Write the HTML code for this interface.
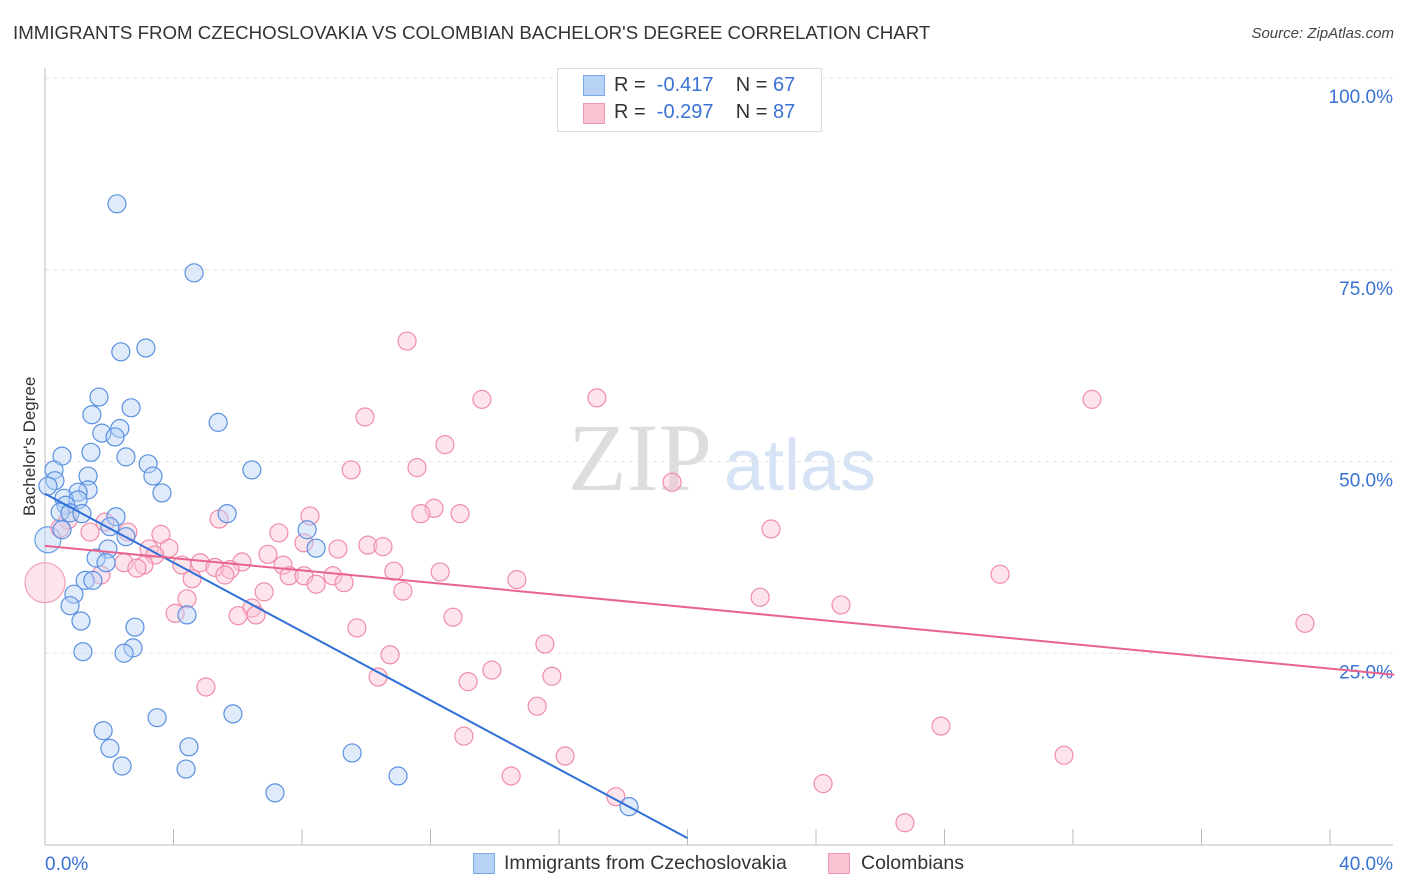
<!DOCTYPE html>
<html><head><meta charset="utf-8"><style>
body{margin:0;background:#fff;font-family:"Liberation Sans",sans-serif;}
#wrap{position:relative;width:1406px;height:892px;overflow:hidden;}
.t{position:absolute;white-space:nowrap;}
</style></head><body>
<div id="wrap">
<div class="t" style="left:13px;top:22px;font-size:18.7px;color:#333;">IMMIGRANTS FROM CZECHOSLOVAKIA VS COLOMBIAN BACHELOR'S DEGREE CORRELATION CHART</div>
<div class="t" style="right:12px;top:25px;font-size:15px;color:#444;font-style:italic;">Source: ZipAtlas.com</div>
<svg id="svg" width="1406" height="892" style="position:absolute;left:0;top:0;">
<text x="640" y="490" font-size="96" font-family="Liberation Serif,serif" fill="#ddd" text-anchor="middle">ZIP</text>
<text x="800" y="490" font-size="72" font-family="Liberation Sans,sans-serif" fill="#d5e3f5" text-anchor="middle">atlas</text>
</svg>
<div class="t" style="left:-30px;top:446px;font-size:17px;color:#333;transform:rotate(-90deg);transform-origin:center;width:120px;text-align:center;">Bachelor's Degree</div>
<div class="t" style="left:557px;top:68px;width:263px;height:62px;border:1px solid #ddd;background:#fff;"></div>
<div class="t" style="left:583px;top:75px;width:20px;height:19px;background:#b8d2f6;border:1px solid #7aaae8;"></div>
<div class="t" style="left:583px;top:103px;width:20px;height:19px;background:#fac3d2;border:1px solid #f09ab2;"></div>
<div class="t" style="left:614px;top:74px;font-size:20px;color:#333;">R = &nbsp;<span style="color:#3a72d4">-0.417</span>&nbsp;&nbsp;&nbsp; N = <span style="color:#3a72d4">67</span></div>
<div class="t" style="left:614px;top:101px;font-size:20px;color:#333;">R = &nbsp;<span style="color:#3a72d4">-0.297</span>&nbsp;&nbsp;&nbsp; N = <span style="color:#3a72d4">87</span></div>
<div class="t" style="left:473px;top:853px;width:20px;height:19px;background:#b8d2f6;border:1px solid #7aaae8;"></div>
<div class="t" style="left:504px;top:852px;font-size:19.5px;color:#333;">Immigrants from Czechoslovakia</div>
<div class="t" style="left:828px;top:853px;width:20px;height:19px;background:#fac3d2;border:1px solid #f09ab2;"></div>
<div class="t" style="left:861px;top:852px;font-size:19.5px;color:#333;">Colombians</div>
</div>
<script>
const yTicks=[25,50,75,100];
const yTickLabels=["25.0%","50.0%","75.0%","100.0%"];
const blueX=[2.24,4.64,2.36,3.14,1.68,2.68,1.46,5.39,2.33,1.77,2.18,0.53,1.43,2.52,3.21,3.36,0.28,6.44,1.34,0.31,0.09,1.34,1.03,3.64,0.59,1.03,0.65,0.47,0.78,1.15,2.21,5.67,2.02,8.16,2.52,0.53,1.96,8.44,1.59,1.90,1.25,1.49,0.90,0.78,4.42,1.12,2.80,2.74,2.46,1.18,3.49,5.85,1.81,4.48,2.02,9.56,2.40,4.39,10.99,7.16,18.18];
const blueY=[83.6,74.6,64.3,64.8,58.4,57.0,56.1,55.1,54.3,53.7,53.2,50.7,51.2,50.6,49.7,48.1,48.9,48.9,48.1,47.5,46.8,46.3,46.0,45.9,45.2,45.0,44.3,43.4,43.3,43.2,42.8,43.2,41.5,41.1,40.2,41.1,38.6,38.7,37.4,36.8,34.5,34.5,32.7,31.2,30.0,29.2,28.4,25.7,25.0,25.2,16.6,17.1,14.9,12.8,12.6,12.0,10.3,9.9,9.0,6.8,5.0];
const pinkX=[11.27,13.60,17.18,32.59,9.96,12.45,9.53,11.58,19.52,12.11,11.70,12.92,8.25,5.42,22.60,3.61,2.58,1.87,0.72,0.47,1.40,7.28,8.06,10.05,10.52,9.12,3.24,3.86,3.42,6.94,6.13,4.83,4.26,5.29,5.76,2.46,3.08,2.86,7.41,5.60,10.86,12.30,7.60,8.06,8.96,1.74,4.58,8.44,9.31,14.69,29.73,6.82,11.14,22.26,24.78,6.44,4.05,4.42,6.01,6.57,12.70,39.22,9.71,15.56,10.74,13.91,10.37,15.78,13.17,5.01,15.32,27.89,13.04,31.72,16.19,14.51,17.77,24.22,26.77];
const pinkY=[65.7,58.1,58.3,58.1,55.8,52.2,48.9,49.2,47.3,43.9,43.2,43.2,42.9,42.5,41.2,40.5,40.8,42.1,42.4,41.3,40.8,40.7,39.4,39.1,38.9,38.6,38.6,38.7,37.8,37.9,36.9,36.8,36.5,36.2,35.9,36.8,36.5,36.1,36.5,35.2,35.7,35.6,35.1,35.1,35.1,35.2,34.7,34.0,34.2,34.6,35.3,33.0,33.1,32.3,31.3,30.9,30.2,32.1,29.9,30.0,29.7,28.9,28.3,26.2,24.8,22.8,21.9,22.0,21.3,20.6,18.1,15.5,14.2,11.7,11.6,9.0,6.3,8.0,2.9];
const blueBigX=[0.09], blueBigY=[39.8];
const pinkBigX=[0.0], pinkBigY=[34.2];
const blueTrend=[[0,45.8],[20,0.9]];
const pinkTrend=[[0,39.0],[42,22.2]];
const X0=45,XS=32.125,Y0=845,YS=7.67;
const sx=v=>X0+v*XS, sy=v=>Y0-v*YS;
const svg=document.getElementById('svg');
const NS='http://www.w3.org/2000/svg';
function mk(t,a){const e=document.createElementNS(NS,t);for(const k in a)e.setAttribute(k,a[k]);svg.appendChild(e);return e;}
yTicks.forEach((v,i)=>{
 const g=mk('line',{x1:45,x2:1393,y1:sy(v),y2:sy(v),stroke:'#e3e3e3','stroke-dasharray':'4,4'});
 
 
 const t=mk('text',{x:1393,y:sy(v)+25,'text-anchor':'end','font-size':19,fill:'#3a72d4','font-family':'Liberation Sans,sans-serif'});
 t.textContent=yTickLabels[i];
 
 
});
const ax=mk('line',{x1:45,x2:45,y1:68,y2:845,stroke:'#bbb'});


const bx=mk('line',{x1:45,x2:1393,y1:845,y2:845,stroke:'#bbb'});


for(let i=0;i<=10;i++){
 const tk=mk('line',{x1:sx(i*4),x2:sx(i*4),y1:829,y2:845,stroke:'#bbb'});
 
 
}
[[0,'0.0%',45,'start'],[40,'40.0%',1393,'end']].forEach(d=>{
 const t=mk('text',{x:d[2],y:870,'text-anchor':d[3],'font-size':19,fill:'#3a72d4','font-family':'Liberation Sans,sans-serif'});
 t.textContent=d[1];
 
 
});
function pts(xs,ys,r,fill,stroke,name){
 xs.forEach((x,i)=>{
  const c=mk('circle',{cx:sx(x),cy:sy(ys[i]),r:r,fill:fill,'fill-opacity':0.45,stroke:stroke,'stroke-width':1.2});
  
  
 });
}
pts(pinkBigX,pinkBigY,20,'#fac3d2','#f2a0b8','pink-point-large');
pts(blueBigX,blueBigY,13,'#b8d2f6','#6a9ee6','blue-point-large');
pts(pinkX,pinkY,9,'#fac3d2','#f08cab','pink-point');
pts(blueX,blueY,9,'#b8d2f6','#5a90e0','blue-point');
const bl=mk('line',{x1:sx(blueTrend[0][0]),y1:sy(blueTrend[0][1]),x2:sx(blueTrend[1][0]),y2:sy(blueTrend[1][1]),stroke:'#2f6fd6','stroke-width':2});


const pl=mk('line',{x1:sx(pinkTrend[0][0]),y1:sy(pinkTrend[0][1]),x2:sx(pinkTrend[1][0]),y2:sy(pinkTrend[1][1]),stroke:'#e8648e','stroke-width':2});


</script>
</body></html>
